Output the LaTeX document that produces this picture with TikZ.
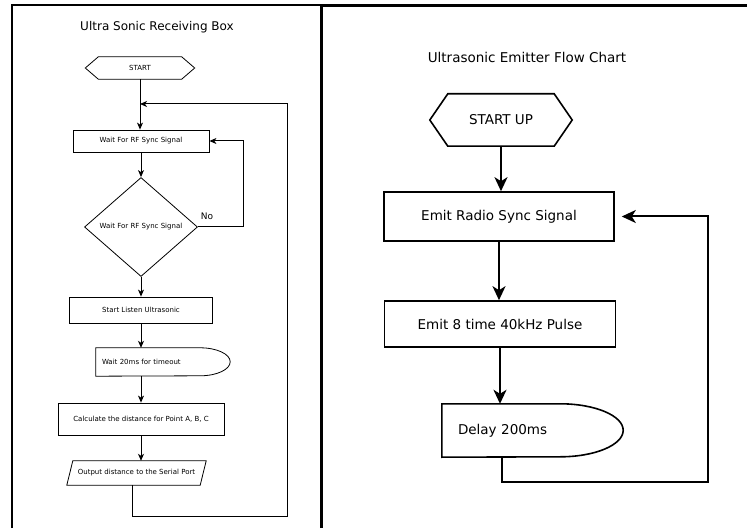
\documentclass[tikz,border=0pt]{standalone}
\usepackage{fontspec}
\setmainfont{DejaVu Sans}
\usetikzlibrary{
    arrows.meta,
    shapes.geometric,
    calc,
    positioning
}
\tikzset{
    lfont/.style={font=\fontsize{7}{8}\selectfont},
    rfont/.style={font=\fontsize{13.5}{15}\selectfont},
    lbox/.style={rectangle, draw, line width=0.8pt, inner sep=0pt, lfont},
    rbox/.style={rectangle, draw, line width=1.6pt, inner sep=0pt, rfont},
    plainshape/.style={rectangle, inner ysep=0pt, inner xsep=0pt},
    delaybox/.style={rectangle, inner ysep=0pt, align=left},
    lline/.style={line width=0.8pt},
    rline/.style={line width=1.6pt},
    larrow/.style={-{Stealth[length=7pt, width=6pt, inset=2pt]}, line width=1pt},
    rarrow/.style={-{Stealth[length=14pt, width=13pt, inset=4pt]}, line width=2pt}
}
\begin{document}
\begin{tikzpicture}[x=1pt, y=1pt]
    \useasboundingbox (0,0) rectangle (747,528);
    % frames
    \draw[line width=1.5pt] (12,0) -- (12,523) -- (321,523);
    \draw[line width=3pt] (321,0) -- (321,522) -- (747,522);

    % left chart
    \node[font=\fontsize{12}{14}\selectfont] (ltitle) at (157,501) {Ultra Sonic Receiving Box};
    \node[plainshape, lfont, minimum width=109pt, minimum height=22pt] (lstart) at (140,460) {START};
    \draw[lline] (lstart.west) -- ([xshift=13pt]lstart.north west) -- ([xshift=-13pt]lstart.north east)
        -- (lstart.east) -- ([xshift=-13pt]lstart.south east) -- ([xshift=13pt]lstart.south west) -- cycle;
    \node[lbox, minimum width=136pt, minimum height=22pt] (lwait) at (141,387) {Wait For RF Sync Signal};
    \node[diamond, draw, line width=0.8pt, inner sep=0pt, aspect=1.14, minimum width=113pt,
        minimum height=99pt, lfont] (lcheck) at (141,301) {Wait For RF Sync Signal};
    \node[font=\fontsize{9}{10}\selectfont] (lno) at (207,312) {No};
    \node[lbox, minimum width=143pt, minimum height=26pt] (llisten) at (141,218) {Start Listen Ultrasonic};
    \node[delaybox, lfont, inner xsep=6pt, text width=122pt, minimum height=28pt] (ltimeout) at (163,166) {Wait 20ms for timeout};
    \draw[lline] (ltimeout.south west) -- (ltimeout.north west) -- ([xshift=-30pt]ltimeout.north east)
        arc[start angle=90, end angle=-90, x radius=30pt, y radius=14pt] -- cycle;
    \node[lbox, minimum width=166pt, minimum height=32pt] (lcalc) at (141,109) {Calculate the distance for Point A, B, C};
    \node[plainshape, lfont, minimum width=133pt, minimum height=24pt] (lout) at (136.5,55) {Output distance to the Serial Port};
    \draw[lline] ([xshift=3pt]lout.north west) -- ([xshift=3pt]lout.north east)
        -- ([xshift=-3pt]lout.south east) -- ([xshift=-3pt]lout.south west) -- cycle;
    \coordinate (ljoin) at (140,424);
    \coordinate (lcorner) at (287,12);

    \draw[larrow] (lstart.south) -- (lstart.south |- lwait.north);
    \draw[larrow] (lwait.south) -- (lcheck.north);
    \draw[larrow] (lcheck.east) -- ++(46,0) |- (lwait.east);
    \draw[larrow] (lcheck.south) -- (llisten.north);
    \draw[larrow] (llisten.south) -- (llisten.south |- ltimeout.north);
    \draw[larrow] (lcalc.north |- ltimeout.south) -- (lcalc.north);
    \draw[larrow] (lcalc.south) -- (lcalc.south |- lout.north);
    \draw[larrow] ([xshift=-4.5pt]lout.south) |- (lcorner) |- (ljoin);

    % right chart
    \node[rfont] (rtitle) at (527,471) {Ultrasonic Emitter Flow Chart};
    \node[plainshape, rfont, minimum width=142pt, minimum height=52pt] (rstart) at (501,408) {START UP};
    \draw[rline] (rstart.west) -- ([xshift=18pt]rstart.north west) -- ([xshift=-18pt]rstart.north east)
        -- (rstart.east) -- ([xshift=-18pt]rstart.south east) -- ([xshift=18pt]rstart.south west) -- cycle;
    \node[rbox, minimum width=230pt, minimum height=49pt] (rradio) at (499,311.5) {Emit Radio Sync Signal};
    \node[rbox, minimum width=231pt, minimum height=46pt] (rpulse) at (500,204) {Emit 8 time 40kHz Pulse};
    \node[delaybox, rfont, inner xsep=16pt, text width=149pt, minimum height=53pt] (rdelay) at (532.5,97.5) {Delay 200ms};
    \draw[rline] (rdelay.south west) -- (rdelay.north west) -- ([xshift=-63pt]rdelay.north east)
        arc[start angle=90, end angle=-90, x radius=63pt, y radius=26.5pt] -- cycle;
    \coordinate (rcorner) at (708,46);

    \draw[rarrow] (rstart.south) -- (rstart.south |- rradio.north);
    \draw[rarrow] (rradio.south) -- (rradio.south |- rpulse.north);
    \draw[rarrow] (rpulse.south) -- (rpulse.south |- rdelay.north);
    \draw[rarrow, shorten >=7pt] ([xshift=2pt]rpulse.south |- rdelay.south) |- (rcorner) |- (rradio.east);
\end{tikzpicture}
\end{document}
